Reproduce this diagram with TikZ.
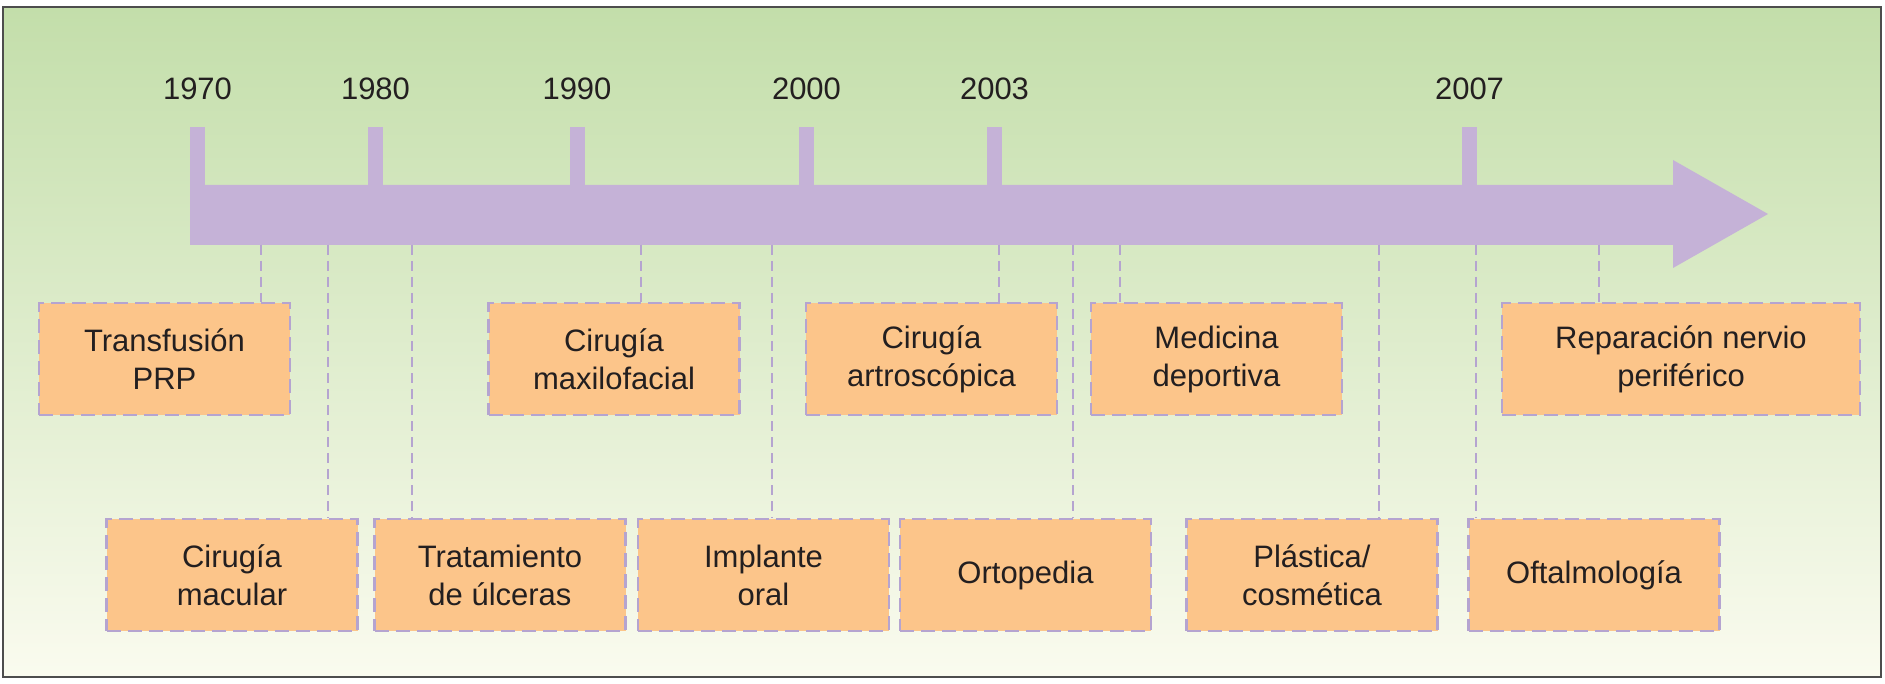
\documentclass[tikz,border=0pt]{standalone}
\usepackage{fontspec}
\setmainfont{Liberation Sans}
\usepackage{tikz}

\definecolor{bgtop}{HTML}{C3DEAA}
\definecolor{bgbottom}{HTML}{FAFBEF}
\definecolor{framegray}{HTML}{4D4D4D}
\definecolor{barlilac}{HTML}{C5B2D7}
\definecolor{boxorange}{HTML}{FCC58A}
\definecolor{dashlilac}{HTML}{B5A4D0}
\definecolor{inkblack}{HTML}{231F20}

\tikzset{
    event/.style={draw=dashlilac,fill=boxorange,line width=1.1pt,dash pattern=on 7pt off 3.5pt,
        minimum width=125.5pt,minimum height=56pt,inner sep=0,align=center,text=inkblack,font=\eventfontsize},
    yearlabel/.style={text=inkblack,font=\yearfontsize,inner sep=0},
    link/.style={draw=dashlilac,line width=0.9pt,dash pattern=on 5pt off 3pt},
}

\begin{document}
\begin{tikzpicture}[x=0.5pt,y=0.5pt]
    \pgfmathsetmacro{\picwidth}{1885}
    \pgfmathsetmacro{\picheight}{684}
    \pgfmathsetmacro{\bartop}{-185}
    \pgfmathsetmacro{\barbottom}{-245}
    \pgfmathsetmacro{\ticktop}{-127}
    \pgfmathsetmacro{\tickwidth}{15}
    \pgfmathsetmacro{\headstart}{1673}
    \pgfmathsetmacro{\toprow}{-359}
    \pgfmathsetmacro{\bottomrow}{-575}
    \providecommand{\yearfontsize}{\fontsize{15.5pt}{19pt}\selectfont}
    \providecommand{\eventfontsize}{\fontsize{15.5pt}{19pt}\selectfont}
    \useasboundingbox (0,0) rectangle (\picwidth,-\picheight);
    \fill[white] (0,0) rectangle (\picwidth,-\picheight);
    \shade[top color=bgtop,bottom color=bgbottom] (3,-7) rectangle (1881,-677);
    \draw[framegray,line width=1pt] (3,-7) rectangle (1881,-677);
    % timeline arrow
    \fill[barlilac] (190,\bartop) -- (\headstart,\bartop) -- (\headstart,-160) -- (1768,-214)
        -- (\headstart,-268) -- (\headstart,\barbottom) -- (190,\barbottom) -- cycle;
    \foreach \x/\year in {197.5/1970,375.5/1980,577/1990,806.5/2000,994.5/2003,1469.5/2007}{
        \fill[barlilac] (\x-\tickwidth/2,\ticktop) rectangle (\x+\tickwidth/2,\bartop-1);
        \node[yearlabel] (y\year) at (\x,-89) {\year};
    }
    % upper row
    \node[event] (prp) at (164.5,\toprow) {Transfusión\\PRP};
    \node[event] (maxilo) at (614,\toprow) {Cirugía\\maxilofacial};
    \node[event] (artro) at (931.5,\toprow) {Cirugía\\artroscópica};
    \node[event] (deporte) at (1216.5,\toprow) {Medicina\\deportiva};
    \node[event,minimum width=179pt] (nervio) at (1681,\toprow) {Reparación nervio\\periférico};
    % lower row
    \node[event] (macular) at (232,\bottomrow) {Cirugía\\macular};
    \node[event] (ulceras) at (500,\bottomrow) {Tratamiento\\de úlceras};
    \node[event] (implante) at (763.5,\bottomrow) {Implante\\oral};
    \node[event] (orto) at (1025.5,\bottomrow) {Ortopedia};
    \node[event] (plastica) at (1312,\bottomrow) {Plástica/\\cosmética};
    \node[event] (oftalmo) at (1594,\bottomrow) {Oftalmología};
    \foreach \x/\ev in {261/prp,328/macular,412/ulceras,641/maxilo,772/implante,999/artro,
        1073/orto,1120/deporte,1379/plastica,1476/oftalmo,1599/nervio}{
        \coordinate (c-\ev) at (\x,\barbottom);
        \draw[link] (c-\ev) -- (c-\ev |- \ev.north);
    }
\end{tikzpicture}
\end{document}
